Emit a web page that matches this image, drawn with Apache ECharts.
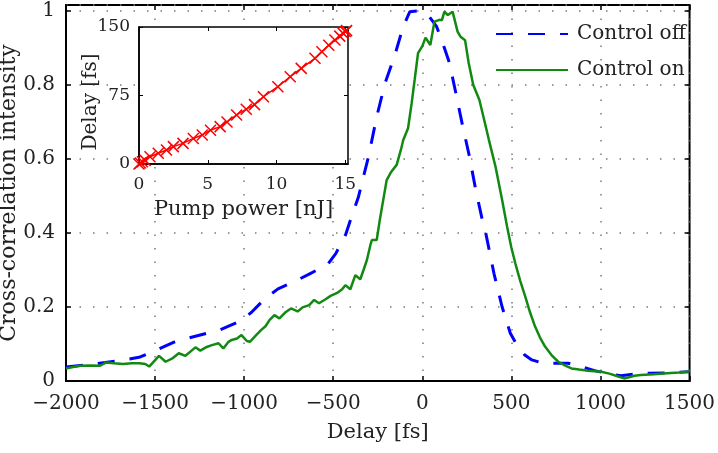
<!DOCTYPE html>
<html>
<head>
<meta charset="utf-8">
<script src="https://cdn.jsdelivr.net/npm/echarts@6/dist/echarts.min.js"></script>
<style>
  html, body { margin: 0; padding: 0; background: #fff; }
  #main { width: 718px; height: 453px; }
</style>
</head>
<body>
<div id="main"></div>
<script>
// control off (blue dashed)
var offDelay = [-2000, -1900, -1780, -1700, -1590, -1500, -1400, -1320, -1210, -1135, -1030, -960,
  -885, -810, -700, -635, -533, -485, -430, -400, -360, -302, -256, -209, -154, -107, -70, -30,
  30, 80, 124, 152, 189, 226, 263, 300, 337, 356, 402, 448, 494, 531, 575, 615, 670, 750, 818,
  892, 967, 1040, 1115, 1226, 1374, 1500];
var offValue = [0.038, 0.043, 0.050, 0.055, 0.064, 0.082, 0.104, 0.115, 0.129, 0.138, 0.160, 0.185,
  0.222, 0.249, 0.273, 0.289, 0.314, 0.345, 0.396, 0.44, 0.495, 0.606, 0.714, 0.805, 0.881, 0.958, 0.998, 1.0,
  0.99, 0.958, 0.90, 0.86, 0.776, 0.69, 0.61, 0.516, 0.435, 0.40, 0.291, 0.20, 0.129, 0.097, 0.07, 0.057, 0.049, 0.048, 0.048,
  0.039, 0.028, 0.02, 0.014, 0.021, 0.022, 0.025];

// control on (green solid)
var onDelay = [-2000, -1960, -1922, -1860, -1811, -1774, -1730, -1681, -1630, -1589, -1555, -1533,
  -1478, -1441, -1400, -1367, -1330, -1300, -1274, -1246, -1210, -1181, -1144, -1117, -1090, -1070,
  -1040, -1015, -985, -968, -930, -904, -880, -857, -830, -802, -770, -737, -700, -672, -635, -607,
  -580, -543, -515, -478, -450, -432, -404, -376, -348, -330, -311, -290, -283, -256, -237, -219,
  -200, -175, -144, -120, -107, -80, -60, -43, -24, 0, 18, 45, 68, 96, 110, 124, 143, 170, 198,
  215, 240, 260, 286, 320, 345, 374, 411, 448, 476, 500, 522, 550, 578, 605, 633, 660, 689, 725,
  763, 800, 837, 880, 930, 1004, 1050, 1100, 1133, 1160, 1190, 1226, 1300, 1374, 1440, 1500];
var onValue = [0.034, 0.038, 0.041, 0.042, 0.041, 0.050, 0.048, 0.046, 0.048, 0.048, 0.046, 0.039,
  0.068, 0.052, 0.062, 0.075, 0.068, 0.080, 0.091, 0.082, 0.092, 0.097, 0.102, 0.088, 0.105, 0.111,
  0.115, 0.124, 0.108, 0.106, 0.125, 0.138, 0.148, 0.165, 0.178, 0.169, 0.185, 0.196, 0.188, 0.199, 0.205, 0.219,
  0.210, 0.221, 0.230, 0.238, 0.248, 0.259, 0.248, 0.286, 0.275, 0.30, 0.327, 0.37, 0.381, 0.381, 0.44, 0.49,
  0.543, 0.565, 0.584, 0.625, 0.651, 0.683, 0.75, 0.814, 0.886, 0.905, 0.928, 0.908, 0.971, 0.976, 0.975, 0.998, 0.989, 0.998, 0.944,
  0.93, 0.921, 0.86, 0.80, 0.76, 0.71, 0.651, 0.579, 0.489, 0.417, 0.36, 0.318, 0.27, 0.228, 0.185, 0.147, 0.118, 0.093, 0.07,
  0.052, 0.042, 0.034, 0.031, 0.028, 0.025, 0.02, 0.012, 0.007, 0.01, 0.014, 0.016, 0.018, 0.021, 0.023, 0.026];

// inset: delay vs pump power
var pumpPower = [0, 0.1, 0.25, 0.45, 0.8, 1.4, 2.0, 2.5, 3.2, 3.95, 4.6, 5.2, 5.9, 6.4, 7.1, 7.8,
  8.4, 9.05, 10.1, 11.0, 11.8, 12.8, 13.3, 13.8, 14.25, 14.6, 14.85, 15.0, 15.1];
var pumpDelay = [0, 1, 2.5, 4, 8, 11.7, 15.3, 19, 22.6, 28, 31.8, 37, 40.9, 46, 53.7, 60,
  65, 73.7, 84.6, 95.6, 104.7, 115.7, 123, 130, 135.8, 140, 143, 145, 146];

function zip(a, b) {
  var out = [];
  for (var i = 0; i < a.length; i++) out.push([a[i], b[i]]);
  return out;
}

var FONT = 'DejaVu Serif';
var TXT = '#222';
var dots = { color: '#7a7a7a', width: 1.5, type: [1.5, 12] };

var chart = echarts.init(document.getElementById('main'));

chart.setOption({
  animation: false,
  textStyle: { fontFamily: FONT, color: TXT },
  legend: {
    orient: 'vertical',
    left: 490,
    top: 19,
    itemWidth: 72,
    itemHeight: 14,
    itemGap: 16,
    itemStyle: { opacity: 0 },
    textStyle: { fontFamily: FONT, fontSize: 20, color: TXT, padding: [0, 0, 0, 4] },
    data: ['Control off', 'Control on']
  },
  // rotated y-axis titles
  graphic: [
    { type: 'text', x: 9, y: 193, rotation: Math.PI / 2, z: 10,
      style: { text: 'Cross-correlation intensity', font: '22px "DejaVu Serif"', fill: TXT,
        align: 'center', verticalAlign: 'middle' } },
    { type: 'text', x: 91, y: 102, rotation: Math.PI / 2, z: 10,
      style: { text: 'Delay [fs]', font: '20px "DejaVu Serif"', fill: TXT,
        align: 'center', verticalAlign: 'middle' } }
  ],
  grid: [
    { left: 66, right: 22, top: 5, bottom: 72, show: true, borderColor: '#000', borderWidth: 2, z: 0 },
    { left: 139, right: 370, top: 27, bottom: 289, show: true, backgroundColor: '#fff',
      borderColor: '#000', borderWidth: 1.5, z: 3 }
  ],
  xAxis: [
    {
      gridIndex: 0, type: 'value', min: -2000, max: 1500, interval: 500,
      name: 'Delay [fs]', nameLocation: 'middle', nameGap: 41,
      nameTextStyle: { fontFamily: FONT, fontSize: 21, color: TXT },
      axisLine: { onZero: false, lineStyle: { color: '#000', width: 2 } },
      axisTick: { inside: true, length: 5, lineStyle: { color: '#000', width: 1.5 } },
      axisLabel: { fontFamily: FONT, fontSize: 20, color: TXT, margin: 13,
        formatter: function (v) { return v < 0 ? '\u2212' + Math.abs(v) : String(v); } },
      splitLine: { show: true, lineStyle: dots }
    },
    {
      gridIndex: 0, type: 'value', min: -2000, max: 1500, interval: 500, position: 'top',
      axisLine: { show: false, onZero: false },
      axisTick: { inside: true, length: 5, lineStyle: { color: '#000', width: 1.5 } },
      axisLabel: { show: false }, splitLine: { show: false }
    },
    {
      gridIndex: 1, type: 'value', min: 0, max: 15.2, interval: 5, z: 4,
      name: 'Pump power [nJ]', nameLocation: 'middle', nameGap: 35,
      nameTextStyle: { fontFamily: FONT, fontSize: 21, color: TXT },
      axisLine: { onZero: false, lineStyle: { color: '#000', width: 1.5 } },
      axisTick: { inside: true, length: 4, lineStyle: { color: '#000', width: 1 } },
      axisLabel: { fontFamily: FONT, fontSize: 17, color: TXT, margin: 12, showMaxLabel: false },
      splitLine: { show: false }
    },
    {
      gridIndex: 1, type: 'value', min: 0, max: 15.2, interval: 5, position: 'top', z: 4,
      axisLine: { show: false, onZero: false },
      axisTick: { inside: true, length: 4, lineStyle: { color: '#000', width: 1 } },
      axisLabel: { show: false }, splitLine: { show: false }
    }
  ],
  yAxis: [
    {
      gridIndex: 0, type: 'value', min: 0, max: 1.016, interval: 0.2,
      axisLine: { show: true, onZero: false, lineStyle: { color: '#000', width: 2 } },
      axisTick: { inside: true, length: 5, lineStyle: { color: '#000', width: 1.5 } },
      axisLabel: { fontFamily: FONT, fontSize: 20, color: TXT, margin: 11, showMaxLabel: false,
        padding: [5, 0, 0, 0] },
      splitLine: { show: true, lineStyle: dots }
    },
    {
      gridIndex: 0, type: 'value', min: 0, max: 1.016, interval: 0.2, position: 'right',
      axisLine: { show: false, onZero: false },
      axisTick: { show: true, inside: true, length: 5, lineStyle: { color: '#000', width: 1.5 } },
      axisLabel: { show: false }, splitLine: { show: false }
    },
    {
      gridIndex: 1, type: 'value', min: 0, max: 150, interval: 75, z: 4,
      axisLine: { show: true, onZero: false, lineStyle: { color: '#000', width: 1.5 } },
      axisTick: { inside: true, length: 4, lineStyle: { color: '#000', width: 1 } },
      axisLabel: { fontFamily: FONT, fontSize: 17, color: TXT, margin: 9, padding: [4, 0, 0, 0] },
      splitLine: { show: false }
    },
    {
      gridIndex: 1, type: 'value', min: 0, max: 150, interval: 75, position: 'right', z: 4,
      axisLine: { show: false, onZero: false },
      axisTick: { show: true, inside: true, length: 4, lineStyle: { color: '#000', width: 1 } },
      axisLabel: { show: false }, splitLine: { show: false }
    }
  ],
  series: [
    {
      name: 'Control off', type: 'line', xAxisIndex: 0, yAxisIndex: 0,
      data: zip(offDelay, offValue), showSymbol: false, symbol: 'none',
      lineStyle: { color: '#0000ff', width: 3, type: [17, 15] },
      itemStyle: { color: '#0000ff' }, z: 2
    },
    {
      name: 'Control on', type: 'line', xAxisIndex: 0, yAxisIndex: 0,
      data: zip(onDelay, onValue), showSymbol: false, symbol: 'none',
      lineStyle: { color: '#128a12', width: 2.5 },
      itemStyle: { color: '#128a12' }, z: 2
    },
    {
      name: 'inset', type: 'line', xAxisIndex: 2, yAxisIndex: 2,
      data: zip(pumpPower, pumpDelay), clip: false,
      symbol: 'path://M0,0L10,10M10,0L0,10', symbolSize: 11, showAllSymbol: true,
      lineStyle: { color: '#ff0000', width: 1.5 },
      itemStyle: { color: 'none', borderColor: '#ff0000', borderWidth: 1.5 }, z: 5
    }
  ]
});
</script>
</body>
</html>
